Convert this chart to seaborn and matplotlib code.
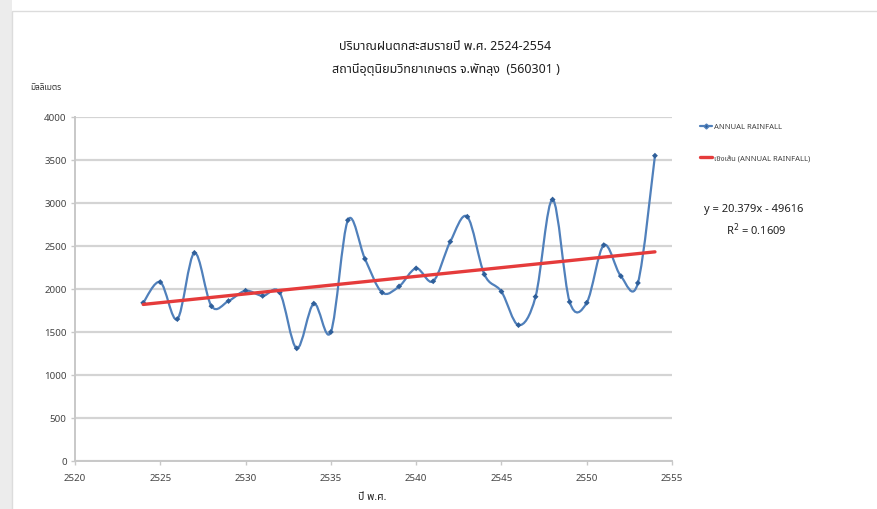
import numpy as np
import pandas as pd
import matplotlib
matplotlib.use("Agg")
import matplotlib.pyplot as plt
import seaborn as sns
from matplotlib.path import Path
from matplotlib.patches import PathPatch, Rectangle
from matplotlib.lines import Line2D
from matplotlib import font_manager
from matplotlib.ft2font import FT2Font

# Annual rainfall, Phatthalung agromet station, B.E. 2524-2554 (mm)
years = list(range(2524, 2555))
rainfall = [1840, 2080, 1650, 2420, 1800, 1860, 1980, 1920, 1960, 1310,
            1830, 1500, 2800, 2350, 1960, 2030, 2240, 2090, 2550, 2840,
            2170, 1970, 1580, 1910, 3040, 1850, 1840, 2510, 2150, 2070, 3550]

# Linear trend as reported on the chart
trend_slope = 20.379
trend_intercept = -49616
r_squared = 0.1609

x_ticks = [2520, 2525, 2530, 2535, 2540, 2545, 2550, 2555]
y_ticks = [0, 500, 1000, 1500, 2000, 2500, 3000, 3500, 4000]

title_lines = ["ปริมาณฝนตกสะสมรายปี พ.ศ. 2524-2554",
               "สถานีอุตุนิยมวิทยาเกษตร จ.พัทลุง  (560301 )"]
y_label = "มิลลิเมตร"
x_label = "ปี พ.ศ."
series_name = "ANNUAL RAINFALL"
trend_name = "เชิงเส้น (ANNUAL RAINFALL)"


def thai_font():
    preferred = ["Noto Sans Thai", "Noto Sans Thai UI", "Loma", "Garuda",
                 "Norasi", "Tlwg Typo", "Sawasdee", "Waree", "Umpush"]
    found = []
    for f in font_manager.fontManager.ttflist:
        try:
            if 0x0E01 in FT2Font(f.fname).get_charmap():
                found.append(f.name)
        except Exception:
            pass
    for p in preferred:
        if p in found:
            return p
    return found[0] if found else None


sns.set_theme(style="white")
tf = thai_font()
families = ([tf] if tf else []) + ["DejaVu Sans"]
plt.rcParams["font.family"] = families

W, H = 877, 510
fig = plt.figure(figsize=(W / 100, H / 100), dpi=100, facecolor="white")

# light frame of the chart object
fig.patches.append(Rectangle((0, 0), 12 / W, 1, transform=fig.transFigure,
                             facecolor="#ececec", edgecolor="none", zorder=-5))
fig.patches.append(Rectangle((12 / W, -0.05), 1.1, 1 - 12 / H + 0.05,
                             transform=fig.transFigure, facecolor="white",
                             edgecolor="#dcdcdc", linewidth=1.0, zorder=-4))

ax = fig.add_axes([75 / W, 1 - 462 / H, (672 - 75) / W, (462 - 118) / H])
ax.set_zorder(2)
ax.set_facecolor("none")

df = pd.DataFrame({"year": years, "rain": rainfall})

# smoothed series through the data (Bezier segments, Catmull-Rom tangents)
px = np.array(years, dtype=float)
py = np.array(rainfall, dtype=float)
verts = [(px[0], py[0])]
codes = [Path.MOVETO]
n = len(px)
for i in range(n - 1):
    i0 = max(i - 1, 0)
    i3 = min(i + 2, n - 1)
    c1 = (px[i] + (px[i + 1] - px[i0]) / 6, py[i] + (py[i + 1] - py[i0]) / 6)
    c2 = (px[i + 1] - (px[i3] - px[i]) / 6, py[i + 1] - (py[i3] - py[i]) / 6)
    verts += [c1, c2, (px[i + 1], py[i + 1])]
    codes += [Path.CURVE4] * 3
blue = "#5080bb"
ax.add_patch(PathPatch(Path(verts, codes), facecolor="none", edgecolor=blue,
                       linewidth=1.6, zorder=3))
sns.scatterplot(data=df, x="year", y="rain", ax=ax, marker="D", s=9,
                color="#2f5f9a", edgecolor="none", zorder=4, legend=False)

# trend line from the stated equation
trend = pd.DataFrame({"year": [years[0], years[-1]]})
trend["rain"] = trend_slope * trend["year"] + trend_intercept
red = "#e53b3b"
sns.lineplot(data=trend, x="year", y="rain", ax=ax, color=red, linewidth=2.4,
             zorder=5, legend=False)

ax.set_xlim(2520, 2555)
ax.set_ylim(0, 4000)
ax.set_xticks(x_ticks)
ax.set_yticks(y_ticks)
ax.set_xticklabels([str(t) for t in x_ticks])
ax.set_yticklabels([str(t) for t in y_ticks])
ax.set_xlabel("")
ax.set_ylabel("")
ax.yaxis.grid(True, color="#d4d4d4", linewidth=1.6)
ax.xaxis.grid(False)
ax.set_axisbelow(True)
for side in ["top", "right"]:
    ax.spines[side].set_visible(False)
for side in ["left", "bottom"]:
    ax.spines[side].set_color("#c8c8c8")
    ax.spines[side].set_linewidth(1.4)
ax.tick_params(axis="both", which="major", length=3, width=1, color="#c8c8c8",
               labelsize=7, labelcolor="#444444", pad=3, direction="out",
               bottom=True, left=True)
ax.tick_params(axis="x", pad=6)

# titles and axis captions
fig.text(0.508, 1 - 46 / H, title_lines[0], ha="center", va="center",
         fontsize=9, color="#1e1e1e")
fig.text(0.508, 1 - 69 / H, title_lines[1], ha="center", va="center",
         fontsize=9, color="#1e1e1e")
fig.text(46 / W, 1 - 88 / H, y_label, ha="center", va="center",
         fontsize=6, color="#333333", fontweight="bold")
fig.text(372 / W, 1 - 498 / H, x_label, ha="center", va="center",
         fontsize=7.5, color="#222222", fontweight="bold")

# legend
handles = [Line2D([0], [0], color=blue, linewidth=1.6, marker="D",
                  markersize=2.5, markerfacecolor="#2f5f9a"),
           Line2D([0], [0], color=red, linewidth=2.4)]
fig.legend(handles, [series_name, trend_name], loc="upper left",
           bbox_to_anchor=(693 / W, 1 - 117 / H), frameon=False,
           fontsize=5.5, handlelength=1.6, handletextpad=0.3,
           labelspacing=3.2, labelcolor="#444444")

# trendline equation
fig.text(754 / W, 1 - 210 / H, f"y = {trend_slope}x - {abs(trend_intercept)}",
         ha="center", va="center", fontsize=8, color="#222222")
fig.text(756 / W, 1 - 230 / H, f"R$^2$ = {r_squared}", ha="center",
         va="center", fontsize=8, color="#222222")

fig.savefig("out.png", dpi=100, facecolor="white")
